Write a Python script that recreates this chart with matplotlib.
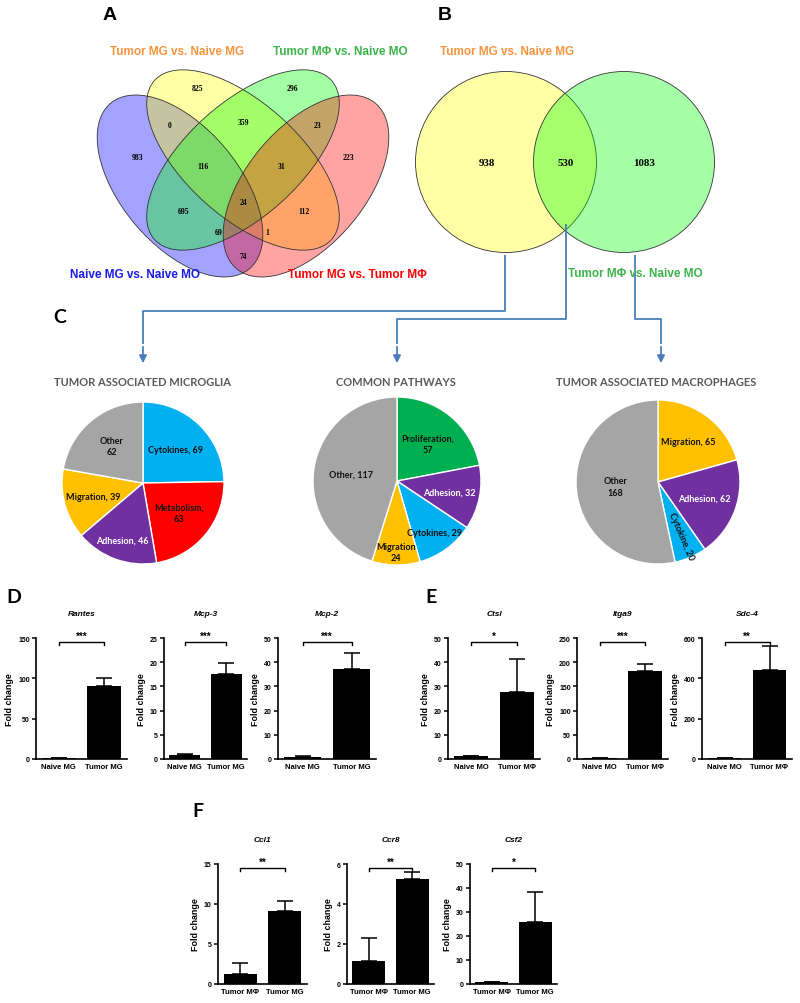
import numpy as np
import matplotlib
matplotlib.use('Agg')
import matplotlib.pyplot as plt
from matplotlib.patches import Ellipse, Circle

W, H = 800, 1004

# ====================== DADOS ======================
# Venn A: ordem das regioes
venn4_names = ['Naive MG vs. Naive MO', 'Tumor MG vs. Naive MG',
               'Tumor MΦ vs. Naive MO', 'Tumor MG vs. Tumor MΦ']
venn4_counts = [983, 825, 296, 223, 0, 359, 23, 116, 31, 695, 112, 24, 69, 1, 74]

# Venn B
venn2_names = ['Tumor MG vs. Naive MG', 'Tumor MΦ vs. Naive MO']
venn2_counts = [938, 530, 1083]

# Pizzas
pie_titles = ['TUMOR ASSOCIATED MICROGLIA', 'COMMON PATHWAYS', 'TUMOR ASSOCIATED MACROPHAGES']
mg_cats = ['Cytokines', 'Metabolism', 'Adhesion', 'Migration', 'Other']
mg_vals = [69, 63, 46, 39, 62]
common_cats = ['Proliferation', 'Adhesion', 'Cytokines', 'Migration', 'Other']
common_vals = [57, 32, 29, 24, 117]
mac_cats = ['Migration', 'Adhesion', 'Cytokine', 'Other']
mac_vals = [65, 62, 20, 168]

# Barras D
d_genes = ['Rantes', 'Mcp-3', 'Mcp-2']
d_groups = ['Naive MG', 'Tumor MG']
d_means = [[1.0, 91.0], [0.85, 17.5], [1.0, 37.0]]
d_errs = [[0.3, 9.0], [0.25, 2.3], [0.1, 7.0]]
d_stars = ['***', '***', '***']

# Barras E
e_genes = ['Ctsl', 'Itga9', 'Sdc-4']
e_groups = ['Naive MO', 'Tumor MΦ']
e_means = [[1.3, 27.7], [2.0, 181.0], [5.0, 440.0]]
e_errs = [[0.1, 13.8], [0.5, 15.0], [1.0, 120.0]]
e_stars = ['*', '***', '**']

# Barras F
f_genes = ['Ccl1', 'Ccr8', 'Csf2']
f_groups = ['Tumor MΦ', 'Tumor MG']
f_means = [[1.3, 9.1], [1.15, 5.25], [0.8, 26.0]]
f_errs = [[1.35, 1.3], [1.15, 0.35], [0.2, 12.5]]
f_stars = ['**', '**', '*']

# ====================== FIGURA ======================
fig = plt.figure(figsize=(W / 100, H / 100), dpi=100)
bg = fig.add_axes([0, 0, 1, 1])
bg.set_xlim(0, W)
bg.set_ylim(H, 0)
bg.axis('off')


def px_axes(left, top, right, bottom):
    return fig.add_axes([left / W, 1 - bottom / H, (right - left) / W, (bottom - top) / H])


SANS = 'Liberation Sans'
SERIF = 'Liberation Serif'
CAL = 'Lato'

# ---------------- A: Venn de 4 conjuntos ----------------
v4_colors = ['#0000FF', '#FFFF00', '#00FF00', '#FF0000']
v4_geom = [((180, 187), 216, 118, 50), ((243, 161), 238, 114, 42),
           ((243, 161), 238, 114, -42), ((306, 187), 216, 118, -50)]
for (c, w, h, ang), col in zip(v4_geom, v4_colors):
    bg.add_patch(Ellipse(c, w, h, angle=ang, facecolor=col, alpha=0.36, edgecolor='none'))
for (c, w, h, ang) in v4_geom:
    bg.add_patch(Ellipse(c, w, h, angle=ang, facecolor='none', edgecolor='#333333', lw=0.6))

v4_pos = [(138, 158), (197, 89), (292, 89), (348, 158), (170, 126), (243, 123), (317, 126),
          (203, 167), (282, 167), (183, 212), (304, 212), (243, 203), (219, 233), (267, 233),
          (243, 257)]
for n, (x, y) in zip(venn4_counts, v4_pos):
    bg.text(x, y, str(n), ha='center', va='center', fontsize=5.5, fontweight='bold', family=SERIF)

v4_label_pos = [(135, 275), (177, 52), (340, 52), (357, 275)]
v4_label_col = ['#1A1AE6', '#F7943F', '#3CB44B', '#FF0000']
for name, (x, y), col in zip(venn4_names, v4_label_pos, v4_label_col):
    bg.text(x, y, name, ha='center', va='center', fontsize=8.5, fontweight='bold',
            color=col, family=SANS)

# ---------------- B: Venn de 2 conjuntos ----------------
for (cx, col) in [(506, '#FFFF00'), (624, '#00FF00')]:
    bg.add_patch(Circle((cx, 163), 90.5, facecolor=col, alpha=0.35, edgecolor='none'))
    bg.add_patch(Circle((cx, 163), 90.5, facecolor='none', edgecolor='#333333', lw=0.6))
for n, x in zip(venn2_counts, [487, 566, 644]):
    bg.text(x, 163, str(n), ha='center', va='center', fontsize=7.8, fontweight='bold', family=SERIF)
bg.text(507, 52, venn2_names[0], ha='center', va='center', fontsize=8.5, fontweight='bold',
        color='#F7943F', family=SANS)
bg.text(635, 274, venn2_names[1], ha='center', va='center', fontsize=8.5, fontweight='bold',
        color='#3CB44B', family=SANS)

# setas ligando B aos graficos de pizza
arrow_col = '#4A7EBB'
paths = [[(505, 256), (505, 312), (143, 312), (143, 345)],
         [(566, 225), (566, 320), (397, 320), (397, 345)],
         [(635, 256), (635, 320), (661, 320), (661, 345)]]
for p in paths:
    xs, ys = zip(*p)
    bg.plot(xs, ys, color=arrow_col, lw=1.3, solid_capstyle='butt')
    bg.annotate('', xy=(p[-1][0], 367), xytext=p[-1],
                arrowprops=dict(arrowstyle='-|>', color=arrow_col, lw=1.3, mutation_scale=11))

# letras dos paineis
for lab, x, y, fam in [('A', 110, 15, SANS), ('B', 445, 15, SANS), ('C', 60, 318, CAL),
                       ('D', 14, 598, CAL), ('E', 431, 598, CAL), ('F', 198, 812, CAL)]:
    bg.text(x, y, lab, ha='center', va='center', fontsize=14, fontweight='bold', family=fam)

# ---------------- C: pizzas ----------------
cols = {'Cytokines': '#00B0F0', 'Cytokine': '#00B0F0', 'Metabolism': '#FF0000',
        'Adhesion': '#7030A0', 'Migration': '#FFC000', 'Other': '#A5A5A5',
        'Proliferation': '#00B050'}
pies = [
    ((143, 484), 81, mg_cats, mg_vals, [', ', ',\n', ', ', ', ', '\n'], [.58, .58, .75, .64, .6]),
    ((397, 482), 84, common_cats, common_vals, [',\n', ', ', ', ', '\n', ', '], [.57, .64, .76, .85, .55]),
    ((658, 483), 82, mac_cats, mac_vals, [', ', ', ', ', ', '\n'], [.62, .6, .71, .52]),
]
for (title, tx), ((cx, cy), r, cats, vals, seps, fr) in zip(zip(pie_titles, [142, 396, 656]), pies):
    ax = px_axes(cx - r, cy - r, cx + r, cy + r)
    wedges, _ = ax.pie(vals, colors=[cols[c] for c in cats], startangle=90, counterclock=False,
                       radius=1, wedgeprops=dict(edgecolor='white', linewidth=1))
    ax.set_xlim(-1, 1)
    ax.set_ylim(-1, 1)
    ax.axis('off')
    for w, cat, v, sep, f in zip(wedges, cats, vals, seps, fr):
        mid = np.deg2rad((w.theta1 + w.theta2) / 2)
        rot = 0
        if cat == 'Cytokine':
            rot = np.rad2deg(mid)
        tc = 'white' if cat == 'Adhesion' else '#111111'
        ax.text(f * np.cos(mid), f * np.sin(mid), f'{cat}{sep}{v}', ha='center', va='center',
                fontsize=6.5, fontweight='bold', color=tc, family=CAL, rotation=rot,
                linespacing=1.3)
    bg.text(tx, 383, title, ha='center', va='center', fontsize=8, fontweight='bold',
            color='#595959', family=CAL)


# ---------------- D, E, F: barras ----------------
def bar_panel(box, gene, groups, means, errs, stars, ymax, step):
    ax = px_axes(*box)
    x = np.arange(len(groups))
    ax.bar(x, means, width=0.75, color='black')
    ax.errorbar(x, means, yerr=[np.zeros(len(errs)), errs], fmt='none', ecolor='black',
                elinewidth=1.1, capsize=5.5, capthick=1.1)
    ax.set_xlim(-0.5, 1.5)
    ax.set_ylim(0, ymax)
    ax.set_yticks(np.arange(0, ymax + step / 2, step))
    ax.set_xticks(x)
    ax.set_xticklabels(groups)
    for s in ['top', 'right']:
        ax.spines[s].set_visible(False)
    for s in ['left', 'bottom']:
        ax.spines[s].set_linewidth(1.2)
    ax.tick_params(axis='y', direction='out', length=3, width=1.1, labelsize=5, pad=1.5)
    ax.tick_params(axis='x', length=0, labelsize=5.5, pad=3)
    for t in ax.get_xticklabels() + ax.get_yticklabels():
        t.set_fontweight('bold')
        t.set_family(SANS)
    ax.set_ylabel('Fold change', fontsize=6.4, fontweight='bold', family=SANS, labelpad=3)
    ax.annotate(gene, xy=(0.5, 1), xycoords='axes fraction', xytext=(0, 17.5),
                textcoords='offset points', ha='center', va='center', fontsize=6,
                fontweight='bold', style='italic', family=SANS)
    yb = 0.97 * ymax
    tick = 0.03 * ymax
    ax.plot([0, 0, 1, 1], [yb - tick, yb, yb, yb - tick], color='black', lw=1, clip_on=False)
    ax.text(0.5, yb + 0.005 * ymax, stars, ha='center', va='bottom', fontsize=7,
            fontweight='bold', family=SANS)
    return ax


d_boxes = [(36, 639, 127, 760), (164, 639, 247, 760), (278, 639, 376, 760)]
d_scale = [(150, 50), (25, 5), (50, 10)]
for i in range(3):
    bar_panel(d_boxes[i], d_genes[i], d_groups, d_means[i], d_errs[i], d_stars[i], *d_scale[i])

e_boxes = [(448, 639, 540, 760), (577, 639, 668, 760), (702, 639, 792, 760)]
e_scale = [(50, 10), (250, 50), (600, 200)]
for i in range(3):
    bar_panel(e_boxes[i], e_genes[i], e_groups, e_means[i], e_errs[i], e_stars[i], *e_scale[i])

f_boxes = [(218, 865, 307, 985), (347, 865, 434, 985), (470, 865, 557, 985)]
f_scale = [(15, 5), (6, 2), (50, 10)]
for i in range(3):
    bar_panel(f_boxes[i], f_genes[i], f_groups, f_means[i], f_errs[i], f_stars[i], *f_scale[i])

fig.savefig('out.png', dpi=100, facecolor='white')
